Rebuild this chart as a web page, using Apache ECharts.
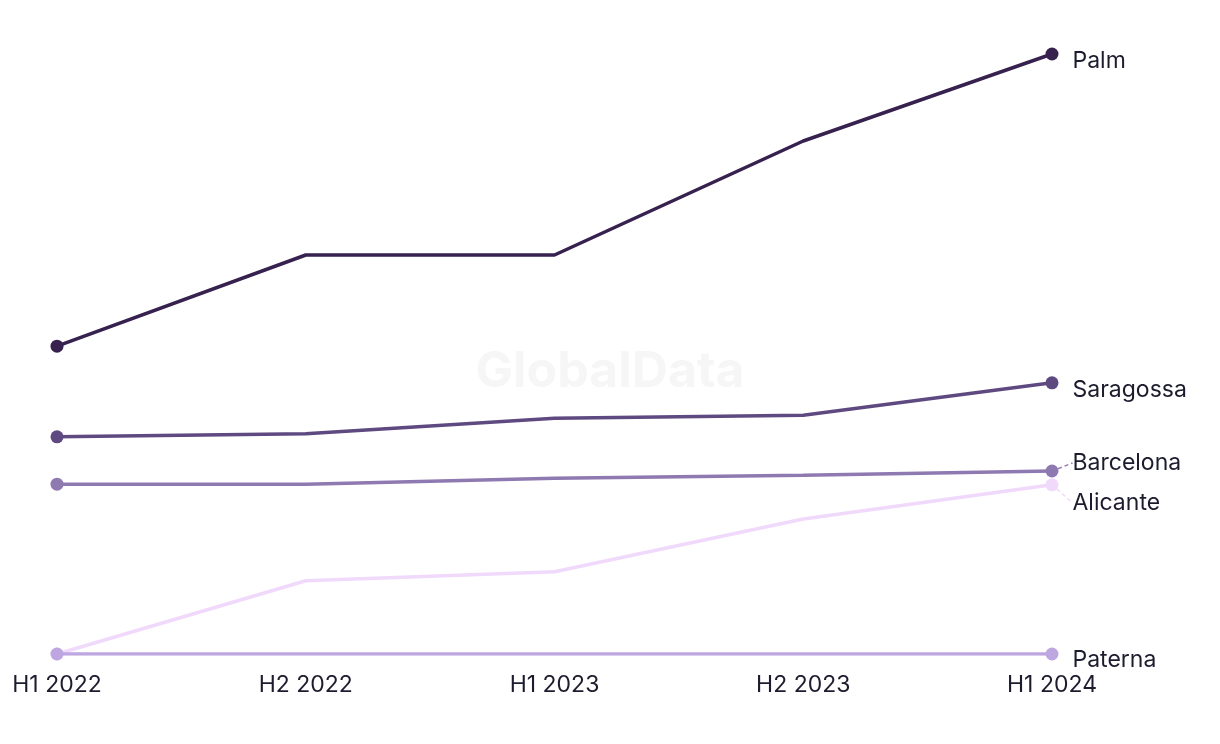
<!DOCTYPE html>
<html>
<head>
<meta charset="utf-8">
<script src="https://cdn.jsdelivr.net/npm/echarts@6/dist/echarts.min.js"></script>
<style>
html,body{margin:0;padding:0;background:#fff;}
#chart{width:1220px;height:744px;}
</style>
</head>
<body>
<div id="chart"></div>
<script>
const categories = ['H1 2022', 'H2 2022', 'H1 2023', 'H2 2023', 'H1 2024'];
const seriesNames = ['Palm', 'Saragossa', 'Barcelona', 'Alicante', 'Paterna'];
const palm      = [51.3, 66.5, 66.5, 85.5, 100];
const saragossa = [36.2, 36.7, 39.3, 39.8, 45.2];
const barcelona = [28.3, 28.3, 29.3, 29.8, 30.5];
const alicante  = [0, 12.2, 13.7, 22.5, 28.2];
const paterna   = [0, 0, 0, 0, 0];
const seriesValues = [palm, saragossa, barcelona, alicante, paterna];
const colors = ['#36214f', '#5e4980', '#8f79b1', '#f1d9fc', '#bea6e1'];
const labelShift = [7, 7, -8, 18, 6];
const showGuide = [false, false, true, true, false];
const lastIdx = categories.length - 1;

const chart = echarts.init(document.getElementById('chart'));
chart.setOption({
  animation: false,
  backgroundColor: '#ffffff',
  textStyle: { fontFamily: 'Inter' },
  graphic: [{
    type: 'text', left: 'center', top: 347, z: 0,
    style: { text: 'GlobalData', fontSize: 50, fontWeight: 'bold', fontFamily: 'Inter', fill: '#f6f6f6' }
  }],
  grid: { left: 57, right: 168, top: 54, bottom: 90 },
  xAxis: {
    type: 'category', data: categories, boundaryGap: false,
    axisLine: { show: false }, axisTick: { show: false }, splitLine: { show: false },
    axisLabel: { color: '#1c1c2e', fontSize: 23, fontFamily: 'Inter', margin: 20 }
  },
  yAxis: {
    type: 'value', min: 0, max: 100, show: false
  },
  series: seriesNames.map((name, i) => ({
    name: name, type: 'line',
    data: seriesValues[i].map((v, j) => j === lastIdx ? {
      value: v,
      label: { show: true, position: 'right', distance: 14, formatter: name,
               color: '#1c1c2e', fontSize: 23, fontFamily: 'Inter' }
    } : v),
    symbol: (v, p) => (p.dataIndex === 0 || p.dataIndex === lastIdx) ? 'circle' : 'none',
    symbolSize: 13, showSymbol: true,
    lineStyle: { color: colors[i], width: 3.5 },
    itemStyle: { color: colors[i] },
    z: 2 + i,
    label: { show: false },
    labelLayout: function (p) { return { dy: labelShift[i] }; },
    labelLine: { show: showGuide[i], length2: 0, smooth: false,
                 lineStyle: { type: [4, 3], color: colors[i], width: 1.5 } }
  }))
});
</script>
</body>
</html>
